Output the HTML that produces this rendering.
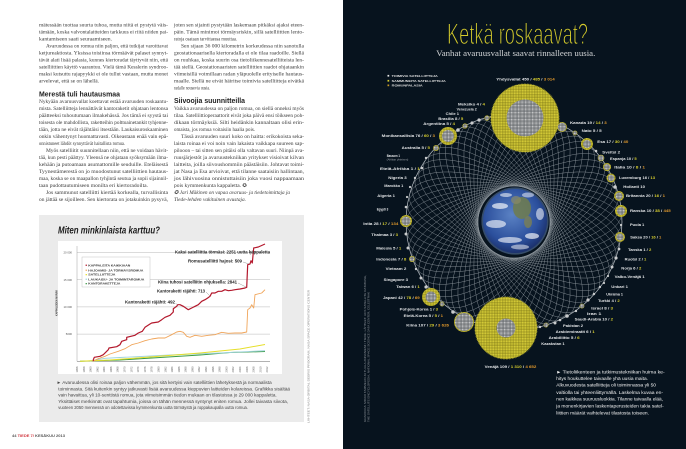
<!DOCTYPE html>
<html><head><meta charset="utf-8"><style>
html,body{margin:0;padding:0;background:#fff;width:686px;height:449px;overflow:hidden}
svg{display:block}
.b{font-family:"Liberation Serif",serif;font-size:5.2px;fill:#3a3a3a}
.bi{font-family:"Liberation Serif",serif;font-size:5.2px;fill:#3a3a3a;font-style:italic}
.h{font-family:"Liberation Sans",sans-serif;font-weight:bold;font-size:7.2px;fill:#1e1e1e}
.c{font-family:"Liberation Sans",sans-serif;font-size:4.4px;fill:#444}
.an{font-family:"Liberation Sans",sans-serif;font-size:4.3px;fill:#222;font-weight:bold}
.lg{font-family:"Liberation Sans",sans-serif;font-size:2.7px;fill:#333;font-weight:bold}
.ax{font-family:"Liberation Sans",sans-serif;font-size:2.8px;fill:#555}
.lb{font-family:"Liberation Sans",sans-serif;font-size:3.4px;fill:#e2e4e6;font-weight:bold}
.rl{font-family:"Liberation Sans",sans-serif;font-size:2.9px;fill:#e0e0e0;font-weight:bold}
.rc{font-family:"Liberation Sans",sans-serif;font-size:4.6px;fill:#f2f2f2}
.cr{font-family:"Liberation Sans",sans-serif;font-size:2.4px;fill:#8a9096}
.y{fill:#d9cf2e}.o{fill:#e39a2c}
</style></head><body>
<svg width="686" height="449" viewBox="0 0 686 449" xmlns="http://www.w3.org/2000/svg">
<defs>
<pattern id="gr" width="1.4" height="1.4" patternUnits="userSpaceOnUse"><rect width="1.4" height="1.4" fill="#5c6064"/><rect width="0.85" height="0.85" fill="#e8e8e8"/></pattern>
<pattern id="yl" width="1.6" height="1.6" patternUnits="userSpaceOnUse"><rect width="1.6" height="1.6" fill="#8f881c"/><circle cx="0.8" cy="0.8" r="0.62" fill="#e6dc3e"/></pattern>
<radialGradient id="eg" cx="45%" cy="40%" r="62%"><stop offset="0" stop-color="#5b82c4"/><stop offset="0.7" stop-color="#2b4f9c"/><stop offset="1" stop-color="#1a2e68"/></radialGradient>
</defs>

<!-- LEFT PAGE -->
<rect x="0" y="0" width="343" height="449" fill="#ffffff"/>

<!-- column 1 -->
<text class="b" x="39" y="26.5" textLength="129" lengthAdjust="spacingAndGlyphs">mätessään tuottaa suurta tuhoa, mutta niitä ei pystytä väis-</text>
<text class="b" x="39" y="33.5" textLength="129" lengthAdjust="spacingAndGlyphs">tämään, koska valvontalaitteiden tarkkuus ei riitä niiden pai-</text>
<text class="b" x="39" y="40.5" textLength="73" lengthAdjust="spacingAndGlyphs">kantamiseen saati seuraamiseen.</text>
<text class="b" x="46" y="47.5" textLength="122" lengthAdjust="spacingAndGlyphs">Avaruudessa on romua niin paljon, että tutkijat varoittavat</text>
<text class="b" x="39" y="54.5" textLength="129" lengthAdjust="spacingAndGlyphs">ketjureaktiosta. Yksissa toisiinsa törmäävät palaset synnyt-</text>
<text class="b" x="39" y="61.5" textLength="129" lengthAdjust="spacingAndGlyphs">tävät alati lisää palasia, kunnes kiertoradat täyttyvät niin, että</text>
<text class="b" x="39" y="68.5" textLength="129" lengthAdjust="spacingAndGlyphs">satelliittien käyttö vaarantuu. Vielä tämä Kesslerin syndroo-</text>
<text class="b" x="39" y="75.5" textLength="129" lengthAdjust="spacingAndGlyphs">maksi kutsuttu rajapyykki ei ole tullut vastaan, mutta monet</text>
<text class="b" x="39" y="82.5" textLength="60" lengthAdjust="spacingAndGlyphs">arvelevat, että se on lähellä.</text>
<text class="h" x="39" y="96.7" textLength="81" lengthAdjust="spacingAndGlyphs">Merestä tuli hautausmaa</text>
<text class="b" x="39" y="102.8" textLength="129" lengthAdjust="spacingAndGlyphs">Nykyään avaruusvallat koettavat estää avaruuden roskaantu-</text>
<text class="b" x="39" y="109.8" textLength="129" lengthAdjust="spacingAndGlyphs">mista. Satelliitteja lennättävät kantoraketit ohjataan lentonsa</text>
<text class="b" x="39" y="116.8" textLength="129" lengthAdjust="spacingAndGlyphs">päätteeksi tuhoutumaan ilmakehässä. Jos tämä ei syystä tai</text>
<text class="b" x="39" y="123.8" textLength="129" lengthAdjust="spacingAndGlyphs">toisesta ole mahdollista, raketteihin polttoainetankit tyhjenne-</text>
<text class="b" x="39" y="130.8" textLength="129" lengthAdjust="spacingAndGlyphs">tään, jotta ne eivät räjähtäisi itsestään. Laukaisuroskaaminen</text>
<text class="b" x="39" y="137.8" textLength="129" lengthAdjust="spacingAndGlyphs">onkin vähentynyt huomattavasti. Oikeastaan enää vain epä-</text>
<text class="b" x="39" y="144.8" textLength="86" lengthAdjust="spacingAndGlyphs">onnistuneet lähdöt synnyttävät haitallista romua.</text>
<text class="b" x="46" y="151.8" textLength="122" lengthAdjust="spacingAndGlyphs">Myös satelliitit suunnitellaan niin, että ne voidaan hävit-</text>
<text class="b" x="39" y="158.8" textLength="129" lengthAdjust="spacingAndGlyphs">tää, kun pesti päättyy. Yleensä ne ohjataan syöksymään ilma-</text>
<text class="b" x="39" y="165.8" textLength="129" lengthAdjust="spacingAndGlyphs">kehään ja putoamaan asumattomille seuduille. Eteläisestä</text>
<text class="b" x="39" y="172.8" textLength="129" lengthAdjust="spacingAndGlyphs">Tyynestämerestä on jo muodostunut satelliittien hautaus-</text>
<text class="b" x="39" y="179.8" textLength="129" lengthAdjust="spacingAndGlyphs">maa, koska se on maapallon tyhjintä seutua ja sopii sijainnil-</text>
<text class="b" x="39" y="186.8" textLength="109" lengthAdjust="spacingAndGlyphs">taan pudottautumiseen monilta eri kiertoradoilta.</text>
<text class="b" x="46" y="193.8" textLength="122" lengthAdjust="spacingAndGlyphs">Jos sammunut satelliitti kiertää korkealla, turvallisinta</text>
<text class="b" x="39" y="200.8" textLength="129" lengthAdjust="spacingAndGlyphs">on jättää se sijoilleen. Sen kiertorata on jotakuinkin pysyvä,</text>

<!-- column 2 -->
<text class="b" x="174" y="26.5" textLength="130" lengthAdjust="spacingAndGlyphs">joten sen sijainti pystytään laskemaan pitkäksi ajaksi eteen-</text>
<text class="b" x="174" y="33.5" textLength="130" lengthAdjust="spacingAndGlyphs">päin. Tämä minimoi törmäysriskin, sillä satelliittien lento-</text>
<text class="b" x="174" y="40.5" textLength="63" lengthAdjust="spacingAndGlyphs">ratoja osataan tarvittaessa muuttaa.</text>
<text class="b" x="181" y="47.5" textLength="123" lengthAdjust="spacingAndGlyphs">Sen sijaan 36 000 kilometrin korkeudessa niin sanotulla</text>
<text class="b" x="174" y="54.5" textLength="130" lengthAdjust="spacingAndGlyphs">geostationaarisella kiertoradalla ei ole tilaa raadoille. Siellä</text>
<text class="b" x="174" y="61.5" textLength="130" lengthAdjust="spacingAndGlyphs">on ruuhkaa, koska suurin osa tietoliikennesatelliiteista len-</text>
<text class="b" x="174" y="68.5" textLength="130" lengthAdjust="spacingAndGlyphs">tää siellä. Geostationaaristen satelliittien raadot ohjataankin</text>
<text class="b" x="174" y="75.5" textLength="130" lengthAdjust="spacingAndGlyphs">viimeisillä voimillaan radan yläpuolelle erityiselle hautaus-</text>
<text class="b" x="174" y="82.5" textLength="130" lengthAdjust="spacingAndGlyphs">maalle. Siellä ne eivät häiritse toimivia satelliitteja eivätkä</text>
<text class="b" x="174" y="89.5" textLength="36" lengthAdjust="spacingAndGlyphs">radalle nousevia uusia.</text>
<text class="h" x="174" y="103.2" textLength="71" lengthAdjust="spacingAndGlyphs">Siivoojia suunnitteilla</text>
<text class="b" x="174" y="110" textLength="130" lengthAdjust="spacingAndGlyphs">Vaikka avaruudessa on paljon romua, on siellä onneksi myös</text>
<text class="b" x="174" y="117" textLength="130" lengthAdjust="spacingAndGlyphs">tilaa. Satelliittioperaattorit eivät joka päivä ensi töikseen poh-</text>
<text class="b" x="174" y="124" textLength="130" lengthAdjust="spacingAndGlyphs">dikaan törmäyksiä. Silti heidänkin kannaltaan olisi erin-</text>
<text class="b" x="174" y="131" textLength="81" lengthAdjust="spacingAndGlyphs">omaista, jos romua voitaisiin haalia pois.</text>
<text class="b" x="181" y="138" textLength="123" lengthAdjust="spacingAndGlyphs">Tässä avaruuden suuri koko on haitta: erikokoista seka-</text>
<text class="b" x="174" y="145" textLength="130" lengthAdjust="spacingAndGlyphs">laista roinaa ei voi noin vain lakaista vaikkapa suureen sap-</text>
<text class="b" x="174" y="152" textLength="130" lengthAdjust="spacingAndGlyphs">pilooon – tai sitten sen pitäisi olla valtavan suuri. Niinpä ava-</text>
<text class="b" x="174" y="159" textLength="130" lengthAdjust="spacingAndGlyphs">ruusjärjestöt ja avaruustekniikan yritykset visioivat kilvan</text>
<text class="b" x="174" y="166" textLength="130" lengthAdjust="spacingAndGlyphs">laitteita, joilla siivoushommiin päästäisiin. Johtavat toimi-</text>
<text class="b" x="174" y="173" textLength="130" lengthAdjust="spacingAndGlyphs">jat Nasa ja Esa arvioivat, että tilanne saataisiin hallintaan,</text>
<text class="b" x="174" y="180" textLength="130" lengthAdjust="spacingAndGlyphs">jos lähivuosina onnistuttaisiin joka vuosi nappaamaan</text>
<text class="b" x="174" y="187" textLength="73" lengthAdjust="spacingAndGlyphs">pois kymmenkunta kappaletta. ✪</text>
<text class="bi" x="174" y="194" textLength="116" lengthAdjust="spacingAndGlyphs">✪ Jari Mäkinen on vapaa avaruus- ja tiedetoimittaja ja</text>
<text class="bi" x="174" y="201" textLength="72" lengthAdjust="spacingAndGlyphs">Tiede-lehden vakituinen avustaja.</text>

<!-- chart panel -->
<rect x="39" y="215" width="265" height="207" fill="#ebebeb"/>
<text x="58" y="233.5" textLength="102" lengthAdjust="spacingAndGlyphs" style="font-family:'Liberation Sans',sans-serif;font-weight:bold;font-style:italic;font-size:10.5px;fill:#1c1c1c">Miten minkinlaista karttuu?</text>
<rect x="58" y="241" width="224" height="133" fill="#ffffff"/>

<g stroke="#a4a4a4" stroke-width="0.4">
<line x1="77" y1="252.5" x2="270" y2="252.5"/>
<line x1="77" y1="279.7" x2="270" y2="279.7"/>
<line x1="77" y1="306.9" x2="270" y2="306.9"/>
<line x1="77" y1="334.1" x2="270" y2="334.1"/>
</g>
<line x1="77" y1="246" x2="77" y2="361.3" stroke="#888" stroke-width="0.4"/>
<line x1="77" y1="361.3" x2="270" y2="361.3" stroke="#666" stroke-width="0.5"/>
<text class="ax" x="72" y="253.6" text-anchor="end">20 000</text>
<text class="ax" x="72" y="280.8" text-anchor="end">15 000</text>
<text class="ax" x="72" y="308" text-anchor="end">10 000</text>
<text class="ax" x="72" y="335.2" text-anchor="end">5000</text>
<text class="ax" transform="translate(57.5,316) rotate(-90)" textLength="26" lengthAdjust="spacingAndGlyphs" style="font-weight:bold;font-size:2.6px;fill:#333">KAPPALEIDEN MÄÄRÄ</text>

<g class="ax" style="font-size:2.7px;fill:#666">
<text transform="translate(78,372.5) rotate(-90)">1956</text>
<text transform="translate(84.8,372.5) rotate(-90)">1958</text>
<text transform="translate(91.6,372.5) rotate(-90)">1960</text>
<text transform="translate(98.4,372.5) rotate(-90)">1962</text>
<text transform="translate(105.2,372.5) rotate(-90)">1964</text>
<text transform="translate(112,372.5) rotate(-90)">1966</text>
<text transform="translate(118.7,372.5) rotate(-90)">1968</text>
<text transform="translate(125.5,372.5) rotate(-90)">1970</text>
<text transform="translate(132.3,372.5) rotate(-90)">1972</text>
<text transform="translate(139.1,372.5) rotate(-90)">1974</text>
<text transform="translate(145.9,372.5) rotate(-90)">1976</text>
<text transform="translate(152.7,372.5) rotate(-90)">1978</text>
<text transform="translate(159.5,372.5) rotate(-90)">1980</text>
<text transform="translate(166.3,372.5) rotate(-90)">1982</text>
<text transform="translate(173.1,372.5) rotate(-90)">1984</text>
<text transform="translate(179.9,372.5) rotate(-90)">1986</text>
<text transform="translate(186.6,372.5) rotate(-90)">1988</text>
<text transform="translate(193.4,372.5) rotate(-90)">1990</text>
<text transform="translate(200.2,372.5) rotate(-90)">1992</text>
<text transform="translate(207,372.5) rotate(-90)">1994</text>
<text transform="translate(213.8,372.5) rotate(-90)">1996</text>
<text transform="translate(220.6,372.5) rotate(-90)">1998</text>
<text transform="translate(227.4,372.5) rotate(-90)">2000</text>
<text transform="translate(234.2,372.5) rotate(-90)">2002</text>
<text transform="translate(241,372.5) rotate(-90)">2004</text>
<text transform="translate(247.8,372.5) rotate(-90)">2006</text>
<text transform="translate(254.5,372.5) rotate(-90)">2008</text>
<text transform="translate(261.3,372.5) rotate(-90)">2010</text>
<text transform="translate(268.1,372.5) rotate(-90)">2012</text>
</g>

<g fill="none" stroke-linejoin="round">
<polyline stroke="#3d9b47" stroke-width="1" points="80,361.3 120,360 160,357.5 200,355 230,352.5 265,351.5"/>
<polyline stroke="#9fd3dc" stroke-width="0.9" points="90,361 105,358.3 120,357.5 170,355 220,353 265,350.7"/>
<polyline stroke="#e6df2a" stroke-width="1" points="80,361.3 110,360 150,357 200,353 240,349 265,344.5"/>
<polyline stroke="#f0a55a" stroke-width="0.9" points="93.3,361 98.3,358.7 105,356.3 110,354 118.3,351.3 125,348.7 131.7,344.7 138.3,343 145,340.7 151.7,339 158.3,338 165,338 171.7,334.7 176.7,332 180,331.3 183.3,332.3 186.7,336.3 190,337.3 195,335.3 201.7,336.3 208.3,335.3 215,334.7 221.7,332.3 228.3,333.3 235,333 241.7,333 246.7,332 247.7,309.7 250,308 251.7,304.7 253.7,308 255,294.7 261.7,293 265,289.7"/>
<polyline stroke="#b3182c" stroke-width="1.2" points="93.3,361.3 93.3,359.7 94.3,357.3 100,356.3 103.3,354.7 108.3,349.7 109,348 116.7,346.7 120,344.7 121.7,341.3 126.7,339.7 126.7,337.3 135,335.3 138.3,333 142.3,331.3 145,327.3 150,324 151.7,323 158.3,322 161.7,319.7 165,317.3 170,315.3 173.3,312 173.3,308.7 176.7,306.3 177.7,304.7 180,304.7 183.3,306.3 188.3,309.7 191.7,308 195,306.3 198.3,304.7 201.7,301.3 205,299.7 207.7,298 210,296.3 211.7,293 215,293 218.3,291.3 221.7,291.3 225,289.7 228.3,290.7 231.7,290.3 235,289.7 240,289 245,288 246.7,287.3 247.7,264.7 250,264 251,260.7 252.3,263 253.7,248 258.3,247 265,244"/>
</g>
<g stroke="#555" stroke-width="0.3">
<line x1="250" y1="255" x2="252.5" y2="250"/>
<line x1="243" y1="262" x2="249" y2="264"/>
<line x1="238" y1="283" x2="246" y2="287"/>
<line x1="206" y1="292" x2="210" y2="296"/>
<line x1="175.5" y1="303" x2="177.5" y2="305"/>
</g>
<text class="an" x="175" y="253.5" textLength="95" lengthAdjust="spacingAndGlyphs">Kaksi satelliittia törmäsi: 2251 uutta kappaletta</text>
<text class="an" x="188" y="262.5" textLength="54" lengthAdjust="spacingAndGlyphs">Romusatelliitti hajosi: 509</text>
<text class="an" x="158" y="283.5" textLength="79" lengthAdjust="spacingAndGlyphs">Kiina tuhosi satelliitin ohjuksella: 2841</text>
<text class="an" x="157" y="292.5" textLength="48" lengthAdjust="spacingAndGlyphs">Kantoraketti räjähti: 713</text>
<text class="an" x="125" y="303.5" textLength="50" lengthAdjust="spacingAndGlyphs">Kantoraketti räjähti: 492</text>

<rect x="82" y="257" width="68" height="30" fill="#fff" stroke="#b5b5b5" stroke-width="0.4"/>
<rect x="85.6" y="264.6" width="1.3" height="1.3" fill="#b3182c"/>
<rect x="85.6" y="269.6" width="1.3" height="1.3" fill="#f0a55a"/>
<rect x="85.6" y="274" width="1.3" height="1.3" fill="#e6df2a"/>
<rect x="85.6" y="278.6" width="1.3" height="1.3" fill="#9fd3dc"/>
<rect x="85.6" y="283" width="1.3" height="1.3" fill="#3d9b47"/>
<text class="lg" x="88.3" y="266.3" textLength="42" lengthAdjust="spacingAndGlyphs">KAPPALEITA KAIKKIAAN</text>
<text class="lg" x="88.3" y="271.3" textLength="55" lengthAdjust="spacingAndGlyphs">HAJOAMIS- JA TÖRMÄYSROMUA</text>
<text class="lg" x="88.3" y="275.7" textLength="27" lengthAdjust="spacingAndGlyphs">SATELLIITTEJA</text>
<text class="lg" x="88.3" y="280.3" textLength="56" lengthAdjust="spacingAndGlyphs">LAUKAISU- JA TOIMINTAROMUA</text>
<text class="lg" x="88.3" y="284.7" textLength="32" lengthAdjust="spacingAndGlyphs">KANTORAKETTEJA</text>

<text class="c" x="56.7" y="383.8" textLength="215" lengthAdjust="spacingAndGlyphs">► Avaruudessa olisi roinaa paljon vähemmän, jos sitä kertyisi vain satelliittien lähetyksestä ja normaalista</text>
<text class="c" x="58.3" y="390.5" textLength="231.7" lengthAdjust="spacingAndGlyphs">toiminnasta. Sitä kuitenkin syntyy jatkuvasti lisää avaruudessa kieppuvien laitteiden kolareissa. Grafiikka sisältää</text>
<text class="c" x="58.3" y="396.5" textLength="218.4" lengthAdjust="spacingAndGlyphs">vain havaittua, yli 10-senttistä romua, jota viimeisimmän tiedon mukaan on tilastoissa jo 29 000 kappaletta.</text>
<text class="c" x="58.3" y="402.8" textLength="229.7" lengthAdjust="spacingAndGlyphs">Yksittäiset merkinnät ovat tapahtumia, joissa on tähän mennessä syntynyt eniten romua. Jollei taivasta siivota,</text>
<text class="c" x="58.3" y="409.2" textLength="189.7" lengthAdjust="spacingAndGlyphs">vuoteen 2050 mennessä on odotettavissa kymmenkunta uutta törmäystä ja roppakaupalla uutta romua.</text>

<text class="cr" transform="translate(309.6,423) rotate(-90)" textLength="133" lengthAdjust="spacingAndGlyphs" style="fill:#8a8a8a">LÄHTEET: NASA ORBITAL DEBRIS PROGRAM, NASA SPACE OPERATIONS CENTER</text>

<text x="12" y="437" textLength="53" lengthAdjust="spacingAndGlyphs" style="font-family:'Liberation Sans',sans-serif;font-size:3.6px;fill:#555;font-weight:bold">44 <tspan fill="#d0343c">TIEDE 7/</tspan> KESÄKUU 2013</text>

<!-- RIGHT PAGE -->
<rect x="343" y="0" width="343" height="449" fill="#07131e"/>

<text x="447" y="44" textLength="141" lengthAdjust="spacingAndGlyphs" style="font-family:'Liberation Sans',sans-serif;font-size:29.6px;fill:#d6cc2c;stroke:#07131e;stroke-width:1.1px">Ketkä roskaavat?</text>
<text x="436.3" y="56" textLength="159" lengthAdjust="spacingAndGlyphs" style="font-family:'Liberation Serif',serif;font-size:8.3px;fill:#d2d4d6">Vanhat avaruusvallat saavat rinnalleen uusia.</text>

<rect x="387.5" y="74.9" width="1.7" height="1.7" fill="#e8e8e8"/>
<rect x="387.5" y="79.9" width="1.7" height="1.7" fill="#d9cf2e"/>
<rect x="387.5" y="84.5" width="1.7" height="1.7" fill="#c89a24"/>
<text class="rl" x="391.7" y="76.8" textLength="46" lengthAdjust="spacingAndGlyphs">TOIMIVIA SATELLIITTEJA</text>
<text class="rl" x="391.7" y="81.8" textLength="54" lengthAdjust="spacingAndGlyphs">SAMMUNEITA SATELLIITTEJA</text>
<text class="rl" x="391.7" y="86.4" textLength="31" lengthAdjust="spacingAndGlyphs">ROMUNPALASIA</text>

<!-- mesh: ellipses centred on earth -->
<g fill="none" stroke="#c3cacf" stroke-width="0.4" opacity="0.72">
<ellipse cx="514" cy="222" rx="108" ry="36" transform="rotate(0 514 222)"/>
<ellipse cx="514" cy="222" rx="108" ry="36" transform="rotate(5 514 222)"/>
<ellipse cx="514" cy="222" rx="108" ry="36" transform="rotate(10 514 222)"/>
<ellipse cx="514" cy="222" rx="108" ry="36" transform="rotate(15 514 222)"/>
<ellipse cx="514" cy="222" rx="108" ry="36" transform="rotate(20 514 222)"/>
<ellipse cx="514" cy="222" rx="108" ry="36" transform="rotate(25 514 222)"/>
<ellipse cx="514" cy="222" rx="108" ry="36" transform="rotate(30 514 222)"/>
<ellipse cx="514" cy="222" rx="108" ry="36" transform="rotate(35 514 222)"/>
<ellipse cx="514" cy="222" rx="108" ry="36" transform="rotate(40 514 222)"/>
<ellipse cx="514" cy="222" rx="108" ry="36" transform="rotate(45 514 222)"/>
<ellipse cx="514" cy="222" rx="108" ry="36" transform="rotate(50 514 222)"/>
<ellipse cx="514" cy="222" rx="108" ry="36" transform="rotate(55 514 222)"/>
<ellipse cx="514" cy="222" rx="108" ry="36" transform="rotate(60 514 222)"/>
<ellipse cx="514" cy="222" rx="108" ry="36" transform="rotate(65 514 222)"/>
<ellipse cx="514" cy="222" rx="108" ry="36" transform="rotate(70 514 222)"/>
<ellipse cx="514" cy="222" rx="108" ry="36" transform="rotate(75 514 222)"/>
<ellipse cx="514" cy="222" rx="108" ry="36" transform="rotate(80 514 222)"/>
<ellipse cx="514" cy="222" rx="108" ry="36" transform="rotate(85 514 222)"/>
<ellipse cx="514" cy="222" rx="108" ry="36" transform="rotate(90 514 222)"/>
<ellipse cx="514" cy="222" rx="108" ry="36" transform="rotate(95 514 222)"/>
<ellipse cx="514" cy="222" rx="108" ry="36" transform="rotate(100 514 222)"/>
<ellipse cx="514" cy="222" rx="108" ry="36" transform="rotate(105 514 222)"/>
<ellipse cx="514" cy="222" rx="108" ry="36" transform="rotate(110 514 222)"/>
<ellipse cx="514" cy="222" rx="108" ry="36" transform="rotate(115 514 222)"/>
<ellipse cx="514" cy="222" rx="108" ry="36" transform="rotate(120 514 222)"/>
<ellipse cx="514" cy="222" rx="108" ry="36" transform="rotate(125 514 222)"/>
<ellipse cx="514" cy="222" rx="108" ry="36" transform="rotate(130 514 222)"/>
<ellipse cx="514" cy="222" rx="108" ry="36" transform="rotate(135 514 222)"/>
<ellipse cx="514" cy="222" rx="108" ry="36" transform="rotate(140 514 222)"/>
<ellipse cx="514" cy="222" rx="108" ry="36" transform="rotate(145 514 222)"/>
<ellipse cx="514" cy="222" rx="108" ry="36" transform="rotate(150 514 222)"/>
<ellipse cx="514" cy="222" rx="108" ry="36" transform="rotate(155 514 222)"/>
<ellipse cx="514" cy="222" rx="108" ry="36" transform="rotate(160 514 222)"/>
<ellipse cx="514" cy="222" rx="108" ry="36" transform="rotate(165 514 222)"/>
<ellipse cx="514" cy="222" rx="108" ry="36" transform="rotate(170 514 222)"/>
<ellipse cx="514" cy="222" rx="108" ry="36" transform="rotate(175 514 222)"/>
</g>
<circle cx="514" cy="222" r="108" fill="none" stroke="#c8ced2" stroke-width="0.6" opacity="0.85"/>

<!-- earth -->
<circle cx="515" cy="221" r="33.6" fill="#6f93c8" opacity="0.45"/>
<circle cx="515" cy="221" r="32" fill="url(#eg)"/>
<ellipse cx="522" cy="208" rx="9" ry="11" fill="#707c4c" opacity="0.85"/>
<ellipse cx="528" cy="222" rx="4" ry="6" fill="#7c8052" opacity="0.8"/>
<ellipse cx="516" cy="200" rx="5" ry="4" fill="#8a8a66" opacity="0.7"/>
<g fill="#ffffff">
<ellipse cx="500" cy="206" rx="8" ry="3" opacity="0.65"/>
<ellipse cx="496" cy="224" rx="10" ry="4" opacity="0.6"/>
<ellipse cx="510" cy="240" rx="12" ry="3" opacity="0.6"/>
<ellipse cx="532" cy="236" rx="7" ry="3" opacity="0.65"/>
<ellipse cx="506" cy="195" rx="6" ry="2" opacity="0.55"/>
<ellipse cx="540" cy="214" rx="4" ry="6" opacity="0.55"/>
<ellipse cx="520" cy="247" rx="9" ry="2.5" opacity="0.5"/>
<ellipse cx="528" cy="195" rx="6" ry="2.5" opacity="0.5"/>
</g>

<!-- big clusters -->
<circle cx="525" cy="118" r="34" fill="url(#yl)"/>
<circle cx="525" cy="118" r="34" fill="none" stroke="#c8bf30" stroke-width="1.2" stroke-dasharray="0.6 0.9" opacity="0.8"/>
<circle cx="525" cy="118" r="18.5" fill="url(#gr)"/>
<circle cx="506" cy="328" r="31" fill="url(#yl)"/>
<circle cx="506" cy="328" r="31" fill="none" stroke="#c8bf30" stroke-width="1.2" stroke-dasharray="0.6 0.9" opacity="0.8"/>
<circle cx="506" cy="328" r="9.5" fill="url(#gr)"/>

<!-- medium clusters -->
<g>
<circle cx="448" cy="136" r="9" fill="url(#yl)"/><circle cx="448" cy="136" r="6" fill="url(#gr)"/>
<circle cx="406" cy="221" r="6" fill="url(#yl)"/><circle cx="406" cy="221" r="4.5" fill="url(#gr)"/>
<circle cx="431" cy="297" r="9" fill="url(#yl)"/><circle cx="431" cy="297" r="5.5" fill="url(#gr)"/>
<circle cx="464" cy="322" r="10" fill="url(#yl)"/><circle cx="464" cy="322" r="9" fill="url(#gr)"/>
<circle cx="562" cy="127" r="5" fill="url(#yl)"/><circle cx="562" cy="127" r="4.2" fill="url(#gr)"/>
<circle cx="587" cy="144" r="6" fill="url(#yl)"/><circle cx="587" cy="144" r="4" fill="url(#gr)"/>
<circle cx="620" cy="237" r="5" fill="url(#yl)"/><circle cx="620" cy="237" r="3.6" fill="url(#gr)"/>
<circle cx="621" cy="211" r="6" fill="url(#yl)"/><circle cx="621" cy="211" r="4" fill="url(#gr)"/>
<circle cx="619" cy="196" r="5" fill="url(#yl)"/><circle cx="619" cy="196" r="3.6" fill="url(#gr)"/>
<circle cx="611" cy="178" r="4.5" fill="url(#yl)"/><circle cx="611" cy="178" r="3.2" fill="url(#gr)"/>
<circle cx="607" cy="167" r="4" fill="url(#yl)"/><circle cx="607" cy="167" r="3" fill="url(#gr)"/>
<circle cx="601" cy="158" r="3.3" fill="url(#yl)"/><circle cx="601" cy="158" r="2.8" fill="url(#gr)"/>
<circle cx="436" cy="148" r="3" fill="url(#yl)"/><circle cx="436" cy="148" r="2.3" fill="url(#gr)"/>
<circle cx="412" cy="259" r="3" fill="url(#yl)"/><circle cx="412" cy="259" r="2.3" fill="url(#gr)"/>
<circle cx="487" cy="118" r="2.6" fill="url(#yl)"/><circle cx="487" cy="118" r="2" fill="url(#gr)"/>
<circle cx="465" cy="126" r="2.6" fill="url(#yl)"/><circle cx="465" cy="126" r="2" fill="url(#gr)"/>
<circle cx="575" cy="133" r="2.4" fill="url(#yl)"/><circle cx="575" cy="133" r="1.9" fill="url(#gr)"/>
<circle cx="582" cy="306" r="2.4" fill="url(#yl)"/><circle cx="582" cy="306" r="2" fill="url(#gr)"/>
<circle cx="546" cy="325" r="2.4" fill="url(#yl)"/><circle cx="546" cy="325" r="2" fill="url(#gr)"/>
<circle cx="442" cy="304" r="2.4" fill="url(#yl)"/><circle cx="442" cy="304" r="1.9" fill="url(#gr)"/>
</g>
<g fill="#c9cbcd">
<circle cx="479" cy="120" r="1.6"/><circle cx="472" cy="123" r="1.6"/><circle cx="458" cy="130" r="1.8"/>
<circle cx="426" cy="158" r="1.2"/><circle cx="422" cy="168" r="1.3"/><circle cx="415" cy="178" r="1.2"/>
<circle cx="410" cy="187" r="1.1"/><circle cx="407" cy="197" r="1.1"/><circle cx="406" cy="207" r="1.3"/>
<circle cx="406" cy="234" r="1.5"/><circle cx="408" cy="248" r="1.5"/><circle cx="416" cy="269" r="1.2"/>
<circle cx="421" cy="278" r="1.5"/><circle cx="426" cy="287" r="1.6"/><circle cx="453" cy="312" r="1.8"/>
<circle cx="596" cy="151" r="1.3"/><circle cx="615" cy="187" r="1.8"/><circle cx="621" cy="225" r="1.1"/>
<circle cx="619" cy="249" r="1.4"/><circle cx="616" cy="258" r="1.6"/><circle cx="612" cy="267" r="1.5"/>
<circle cx="608" cy="276" r="1.1"/><circle cx="604" cy="283" r="1.1"/><circle cx="600" cy="287" r="1.1"/>
<circle cx="594" cy="294" r="1.2"/><circle cx="588" cy="300" r="1.6"/><circle cx="576" cy="311" r="1.2"/>
<circle cx="567" cy="316" r="1.8"/><circle cx="560" cy="320" r="1.3"/><circle cx="555" cy="323" r="1.5"/>
<circle cx="540" cy="327" r="1.2"/>
</g>

<!-- labels left -->
<g class="lb" text-anchor="end">
<text x="485" y="105.5" textLength="27" lengthAdjust="spacingAndGlyphs">Meksiko 4 / <tspan class="y">4</tspan></text>
<text x="476.7" y="110.5" textLength="20" lengthAdjust="spacingAndGlyphs">Venezuela 2</text>
<text x="459" y="115.2" textLength="13.3" lengthAdjust="spacingAndGlyphs">Chile 1</text>
<text x="463.3" y="120.2" textLength="25" lengthAdjust="spacingAndGlyphs">Brasilia 8 / <tspan class="y">5</tspan></text>
<text x="455" y="125.2" textLength="31.7" lengthAdjust="spacingAndGlyphs">Argentiina 5 / <tspan class="y">4</tspan></text>
<text x="435" y="137.2" textLength="53.3" lengthAdjust="spacingAndGlyphs">Monikansallisia 76 / <tspan class="y">60</tspan> / <tspan class="o">3</tspan></text>
<text x="430" y="148.9" textLength="28.3" lengthAdjust="spacingAndGlyphs">Australia 5 / <tspan class="y">5</tspan></text>
<text x="420" y="170.2" textLength="40" lengthAdjust="spacingAndGlyphs">Etelä-Afrikka 1 / <tspan class="y">1</tspan></text>
<text x="406.7" y="178.9" textLength="18.4" lengthAdjust="spacingAndGlyphs">Nigeria 3</text>
<text x="403.3" y="186.9" textLength="19" lengthAdjust="spacingAndGlyphs">Marokko 1</text>
<text x="395" y="197.2" textLength="17.7" lengthAdjust="spacingAndGlyphs">Algeria 1</text>
<text x="388.3" y="210.5" textLength="11.6" lengthAdjust="spacingAndGlyphs">Egypti 3</text>
<text x="398.3" y="224.9" textLength="35" lengthAdjust="spacingAndGlyphs">Intia 28 / <tspan class="y">17</tspan> / <tspan class="o">134</tspan></text>
<text x="398" y="236.2" textLength="26.7" lengthAdjust="spacingAndGlyphs">Thaimaa 3 / <tspan class="y">3</tspan></text>
<text x="401.3" y="249.5" textLength="25" lengthAdjust="spacingAndGlyphs">Malesia 5 / <tspan class="y">1</tspan></text>
<text x="406.3" y="260.5" textLength="30" lengthAdjust="spacingAndGlyphs">Indonesia 7 / <tspan class="y">8</tspan></text>
<text x="406.3" y="269.9" textLength="20.6" lengthAdjust="spacingAndGlyphs">Vietnam 2</text>
<text x="408" y="281.2" textLength="24.3" lengthAdjust="spacingAndGlyphs">Singapore 3</text>
<text x="419.7" y="287.9" textLength="23.4" lengthAdjust="spacingAndGlyphs">Taiwan 6 / <tspan class="y">1</tspan></text>
<text x="419.7" y="298.9" textLength="36.7" lengthAdjust="spacingAndGlyphs">Japani 42 / <tspan class="y">78</tspan> / <tspan class="o">69</tspan></text>
<text x="438" y="310.5" textLength="38.3" lengthAdjust="spacingAndGlyphs">Pohjois-Korea 1 / <tspan class="y">3</tspan></text>
<text x="443" y="317.2" textLength="39.3" lengthAdjust="spacingAndGlyphs">Etelä-Korea 5 / <tspan class="y">5</tspan> / <tspan class="o">1</tspan></text>
<text x="449" y="326.5" textLength="42.7" lengthAdjust="spacingAndGlyphs">Kiina 107 / <tspan class="y">29</tspan> / <tspan class="o">3 626</tspan></text>
</g>
<text class="lb" x="386.7" y="156.9" textLength="13.3" lengthAdjust="spacingAndGlyphs">Bassom 1</text>
<text class="lb" x="386.7" y="160.5" textLength="21.6" lengthAdjust="spacingAndGlyphs" style="font-size:2.4px;font-weight:normal;fill:#9aa0a6">(Afrikan yhteinen)</text>
<text class="lb" x="484.7" y="367.9" textLength="51.6" lengthAdjust="spacingAndGlyphs">Venäjä 109 / <tspan class="y">1 310</tspan> / <tspan class="o">4 652</tspan></text>

<!-- labels right -->
<g class="lb">
<text x="496.3" y="80.5" textLength="58.4" lengthAdjust="spacingAndGlyphs">Yhdysvallat 450 / <tspan class="y">485</tspan> / <tspan class="o">3 014</tspan></text>
<text x="570" y="123.9" textLength="36.7" lengthAdjust="spacingAndGlyphs">Kanada 19 / <tspan class="y">14</tspan> / <tspan class="o">3</tspan></text>
<text x="581.7" y="132.2" textLength="20" lengthAdjust="spacingAndGlyphs">Nato 5 / 5</text>
<text x="597.3" y="142.9" textLength="31" lengthAdjust="spacingAndGlyphs">Esa 17 / <tspan class="y">30</tspan> / <tspan class="o">40</tspan></text>
<text x="602.3" y="153.5" textLength="17.7" lengthAdjust="spacingAndGlyphs">Sveitsi 2</text>
<text x="610" y="160.2" textLength="26.7" lengthAdjust="spacingAndGlyphs">Espanja 10 / <tspan class="y">5</tspan></text>
<text x="614.3" y="168.5" textLength="30.7" lengthAdjust="spacingAndGlyphs">Italia 10 / <tspan class="y">8</tspan> / <tspan class="o">1</tspan></text>
<text x="619" y="178.9" textLength="36" lengthAdjust="spacingAndGlyphs">Luxemburg 16 / <tspan class="y">13</tspan></text>
<text x="623.3" y="187.9" textLength="21.7" lengthAdjust="spacingAndGlyphs">Hollanti 10</text>
<text x="626" y="196.9" textLength="39" lengthAdjust="spacingAndGlyphs">Britannia 20 / <tspan class="y">16</tspan> / <tspan class="o">1</tspan></text>
<text x="630" y="212.2" textLength="40.7" lengthAdjust="spacingAndGlyphs">Ranska 10 / <tspan class="y">38</tspan> / <tspan class="o">445</tspan></text>
<text x="630" y="226.2" textLength="14.3" lengthAdjust="spacingAndGlyphs">Puola 1</text>
<text x="630.3" y="238.5" textLength="31" lengthAdjust="spacingAndGlyphs">Saksa 20 / <tspan class="y">16</tspan> / <tspan class="o">1</tspan></text>
<text x="628" y="251.2" textLength="23.3" lengthAdjust="spacingAndGlyphs">Tanska 1 / <tspan class="y">2</tspan></text>
<text x="624.7" y="260.5" textLength="21.6" lengthAdjust="spacingAndGlyphs">Ruotsi 2 / <tspan class="y">1</tspan></text>
<text x="621.3" y="269.5" textLength="20" lengthAdjust="spacingAndGlyphs">Norja 6 / <tspan class="y">2</tspan></text>
<text x="614.7" y="277.9" textLength="30" lengthAdjust="spacingAndGlyphs">Valko-Venäjä 1</text>
<text x="611.3" y="287.9" textLength="16.7" lengthAdjust="spacingAndGlyphs">Unkari 1</text>
<text x="606.3" y="295.5" textLength="16.7" lengthAdjust="spacingAndGlyphs">Ukraina 1</text>
<text x="598" y="302.2" textLength="21.7" lengthAdjust="spacingAndGlyphs">Turkki 4 / <tspan class="y">2</tspan></text>
<text x="591.3" y="309.5" textLength="21.7" lengthAdjust="spacingAndGlyphs">Israel 8 / <tspan class="y">3</tspan></text>
<text x="587" y="315.2" textLength="14.3" lengthAdjust="spacingAndGlyphs">Iran 1</text>
<text x="574.7" y="320.5" textLength="38.3" lengthAdjust="spacingAndGlyphs">Saudi-Arabia 10 / <tspan class="y">2</tspan></text>
<text x="563" y="326.9" textLength="20" lengthAdjust="spacingAndGlyphs">Pakistan 2</text>
<text x="555.7" y="332.9" textLength="39" lengthAdjust="spacingAndGlyphs">Arabiemiraatit 6 / <tspan class="y">1</tspan></text>
<text x="548.7" y="338.9" textLength="31" lengthAdjust="spacingAndGlyphs">Arabiliitto 5 / <tspan class="y">6</tspan></text>
<text x="541.3" y="345.2" textLength="23.4" lengthAdjust="spacingAndGlyphs">Kazakstan 1</text>
</g>

<!-- right caption -->
<text class="rc" x="556.3" y="373.3" textLength="108.4" lengthAdjust="spacingAndGlyphs">► Tietoliikenteen ja tutkimustekniikan huima ke-</text>
<text class="rc" x="556.3" y="379.9" textLength="91.7" lengthAdjust="spacingAndGlyphs">hitys houkuttelee taivaalle yhä uusia maita.</text>
<text class="rc" x="556.3" y="386.6" textLength="99.7" lengthAdjust="spacingAndGlyphs">Alkuvuodesta satelliitteja oli toiminnassa yli 50</text>
<text class="rc" x="556.3" y="393.9" textLength="106.7" lengthAdjust="spacingAndGlyphs">valtiolla tai yhteenliittymällä. Laskelma kuvaa en-</text>
<text class="rc" x="556.3" y="400.6" textLength="106.7" lengthAdjust="spacingAndGlyphs">nen kaikkea suuruusluokkia. Tilanne taivaalla elää,</text>
<text class="rc" x="556.3" y="407.3" textLength="107.4" lengthAdjust="spacingAndGlyphs">ja monenkirjavien laskentaperusteiden takia satel-</text>
<text class="rc" x="556.3" y="414.3" textLength="92.7" lengthAdjust="spacingAndGlyphs">liittien määrät vaihtelevat tilastosta toiseen.</text>

<!-- vertical credits right page -->
<text class="cr" transform="translate(366,422) rotate(-90)" textLength="147" lengthAdjust="spacingAndGlyphs">GRAFIIKKA: MIKKO TAMMELIN JA TUULA ANNANIEMI / TIEDE. LÄHTEET: UCS SATELLITE DATABASE,</text>
<text class="cr" transform="translate(369.5,422) rotate(-90)" textLength="130" lengthAdjust="spacingAndGlyphs">THE SATELLITE ENCYCLOPEDIA, NATIONAL SPACE SCIENCE DATA CENTER, CELESTRAK</text>
</svg>
</body></html>
